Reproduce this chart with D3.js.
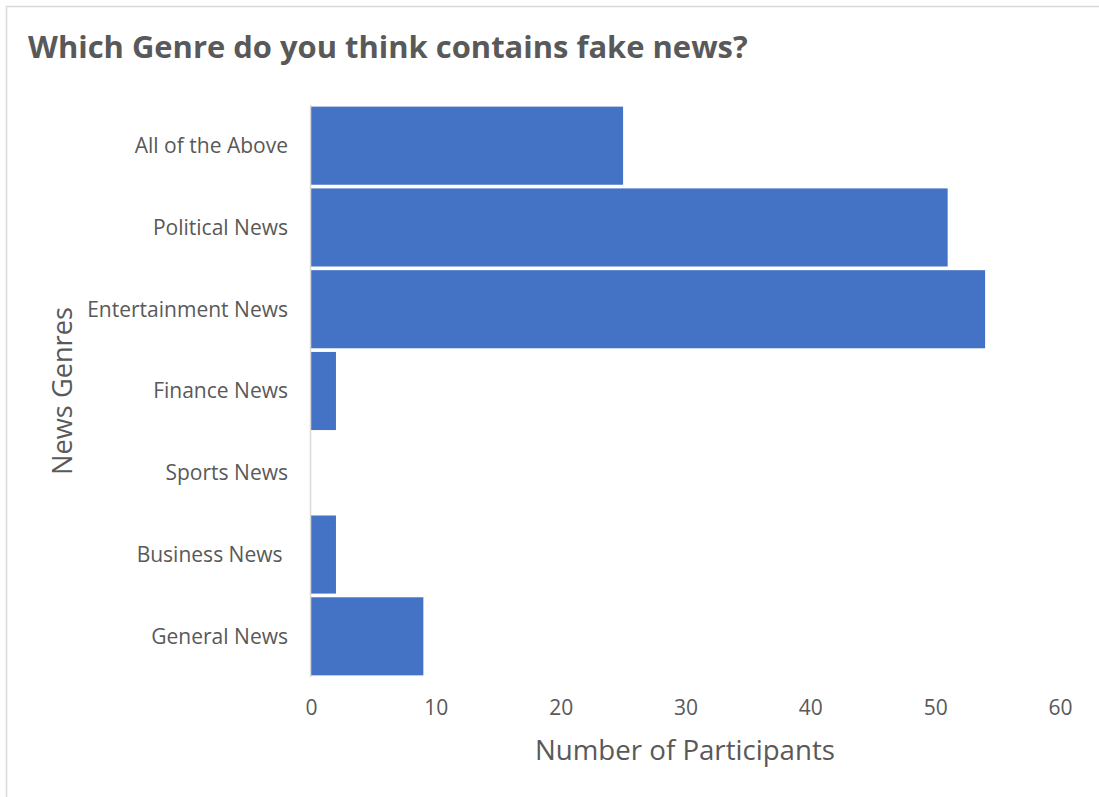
<!DOCTYPE html>
<html>
<head>
<meta charset="utf-8">
<script src="https://cdn.jsdelivr.net/npm/d3@7"></script>
<style>
  html, body { margin: 0; padding: 0; background: #fff; }
  svg { display: block; }
  text { font-family: "Open Sans", "Noto Sans", sans-serif; fill: #595959; }
</style>
</head>
<body>
<svg id="chart" width="1099" height="797"></svg>
<script>
// Survey answers: which genre is believed to carry fake news
const genres = ["All of the Above", "Political News", "Entertainment News",
                "Finance News", "Sports News", "Business News ", "General News"];
const participants = [25, 51, 54, 2, 0, 2, 9];
const xTicks = [0, 10, 20, 30, 40, 50, 60];

const titleText = "Which Genre do you think contains fake news?";
const xTitle = "Number of Participants";
const yTitle = "News Genres";

const svg = d3.select("#chart");

// chart frame (top and left edges visible inside the window)
svg.append("rect")
  .attr("x", 6.5).attr("y", 6.5)
  .attr("width", 1200).attr("height", 900)
  .attr("fill", "none").attr("stroke", "#d9d9d9").attr("stroke-width", 1.5);

// shrink/grow a text element until it spans the wanted width
function fit(sel, width, startSize) {
  sel.style("font-size", startSize + "px");
  const w = sel.node().getComputedTextLength();
  sel.style("font-size", (startSize * width / w).toFixed(2) + "px");
  return sel;
}

const x = d3.scaleLinear().domain([0, 60]).range([311, 1060]);
const y = d3.scaleBand().domain(genres).range([105, 677])
  .paddingInner(0.045).paddingOuter(0.02);

// bars
svg.append("g").selectAll("rect")
  .data(genres.map((g, i) => ({ g, v: participants[i] })))
  .join("rect")
  .attr("x", x(0))
  .attr("y", d => y(d.g))
  .attr("width", d => x(d.v) - x(0))
  .attr("height", y.bandwidth())
  .attr("fill", "#4472c4");

// vertical category axis line
svg.append("line")
  .attr("x1", 310.5).attr("x2", 310.5)
  .attr("y1", 105).attr("y2", 677)
  .attr("stroke", "#d9d9d9").attr("stroke-width", 1.5);

// category labels
const probe = svg.append("text").text("Entertainment News");
fit(probe, 201, 20);
const labelSize = probe.style("font-size");
probe.remove();

const yAxis = d3.axisLeft(y).tickSize(0).tickPadding(0);
const gy = svg.append("g").attr("transform", "translate(288,0)").call(yAxis);
gy.select(".domain").remove();
gy.selectAll("text")
  .attr("x", 0)
  .style("font-family", '"Open Sans", sans-serif')
  .style("font-size", labelSize)
  .style("fill", "#595959")
  .style("white-space", "pre")
  .attr("dy", "0.35em");

// value axis tick labels
const xAxis = d3.axisBottom(x).tickValues(xTicks).tickSize(0).tickPadding(0);
const gx = svg.append("g").attr("transform", "translate(0,708)").call(xAxis);
gx.select(".domain").remove();
gx.selectAll("text")
  .attr("y", 0).attr("dy", "0.35em")
  .style("font-family", '"Open Sans", sans-serif')
  .style("font-size", labelSize)
  .style("fill", "#595959");

// title
const t = svg.append("text")
  .attr("x", 28).attr("y", 58)
  .style("font-weight", "bold")
  .text(titleText);
fit(t, 720, 28);

// axis titles
const xt = svg.append("text")
  .attr("x", 685).attr("y", 750)
  .attr("text-anchor", "middle").attr("dy", "0.35em")
  .text(xTitle);
fit(xt, 300, 26);

const yt = svg.append("text")
  .attr("transform", "translate(62,391) rotate(-90)")
  .attr("text-anchor", "middle").attr("dy", "0.35em")
  .text(yTitle);
fit(yt, 168, 26);
</script>
</body>
</html>
